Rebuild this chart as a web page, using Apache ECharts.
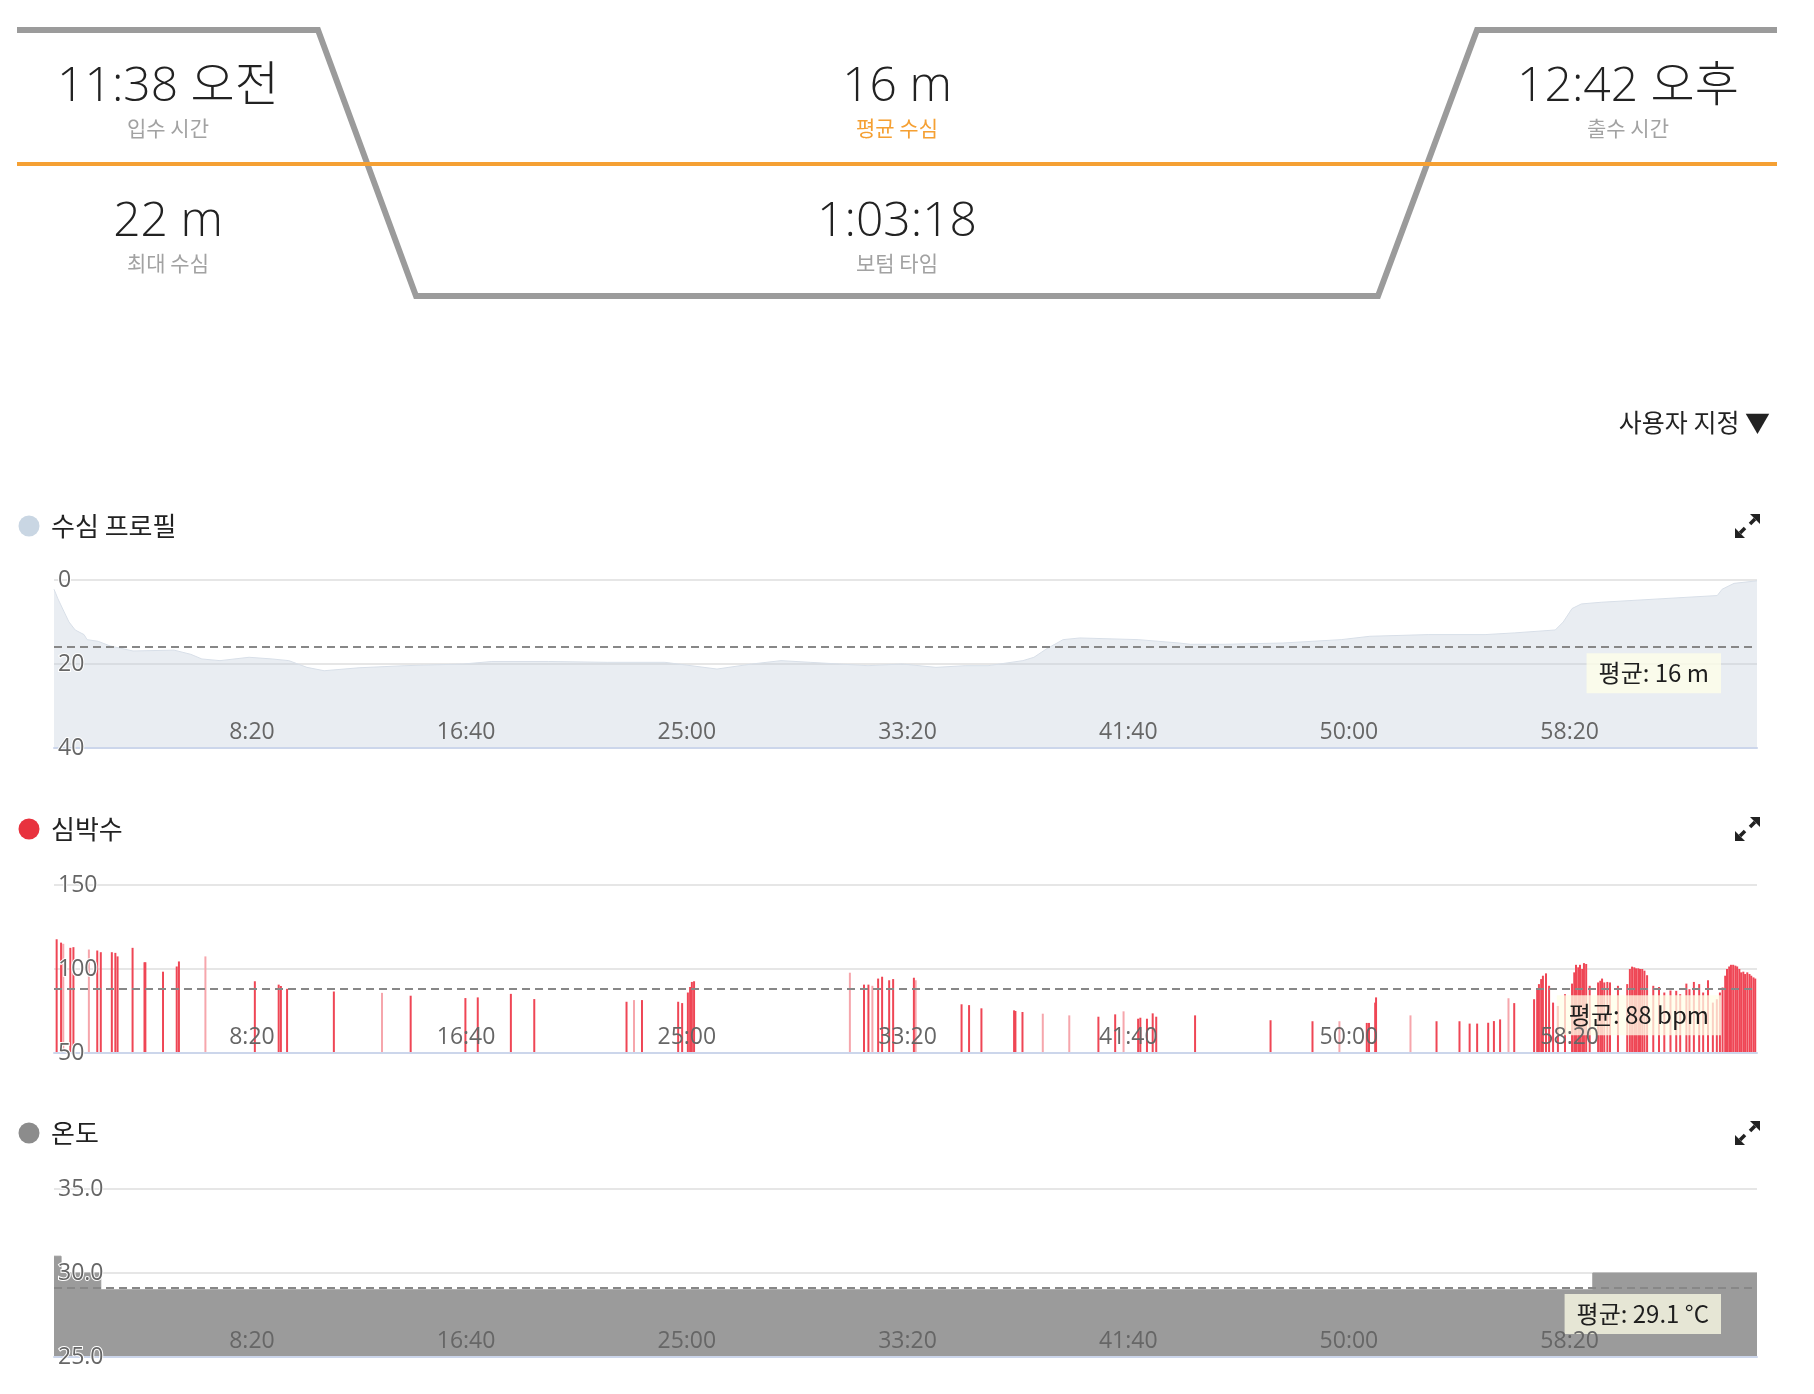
<!DOCTYPE html>
<html><head><meta charset="utf-8">
<script src="https://cdn.jsdelivr.net/npm/echarts@6/dist/echarts.min.js"></script>
<style>html,body{margin:0;padding:0;background:#fff;}#c{width:1814px;height:1394px;}</style>
</head><body><div id="c"></div>
<script>
// ---------- data ----------
const headerValues = ['11:38 오전', '16 m', '12:42 오후', '22 m', '1:03:18'];
const headerNames  = ['입수 시간', '평균 수심', '출수 시간', '최대 수심', '보텀 타임'];
const panelTitles  = ['수심 프로필', '심박수', '온도'];
const customLabel  = '사용자 지정 ▼';

const timeMax = 3858; // seconds shown on the x axis
const xTickValues = [500, 1000, 1500, 2000, 2500, 3000, 3500];
const xTickLabels = ['8:20', '16:40', '25:00', '33:20', '41:40', '50:00', '58:20'];

const depthTicks = [0, 20, 40];
const depthTickLabels = ['0', '20', '40'];
const hrTicks = [50, 100, 150];
const hrTickLabels = ['50', '100', '150'];
const tempTicks = [25, 30, 35];
const tempTickLabels = ['25.0', '30.0', '35.0'];

const depthTime = [0,9,23,34,48,68,75,100,127,179,272,310,335,376,442,494,532,573,612,691,795,927,992,1121,1253,1384,1502,1581,1647,1713,1844,1921,1998,2064,2116,2195,2220,2247,2286,2324,2456,2549,2574,2653,2784,2850,2916,2981,3113,3242,3308,3401,3419,3439,3460,3505,3636,3768,3779,3806,3858];
const depthM = [2.2,4.5,7.6,10,11.9,13,14.2,14.6,15.7,16.9,16.7,17.7,18.8,19.2,18.4,18.8,19.2,20.8,21.6,20.9,20.4,20,19.4,19.4,19.6,19.6,21.2,20,19.2,19.6,20.4,20,20.8,20.4,20.4,19.2,18.4,16.5,14.2,13.8,14.2,15,15.3,15.3,15,14.6,14.2,13.4,13,13,12.6,11.9,10,6.8,5.7,5.3,4.5,3.7,2.2,0.8,0.2];
const depthAvg = 16;

const hrSolidT = [6,16,37,44,98,106,131,139,144,178,205,207,247,278,283,455,509,514,528,634,808,932,960,1035,1088,1297,1332,1414,1423,1436,1441,1445,1450,1835,1845,1867,1876,1892,1901,1948,2056,2073,2101,2175,2178,2194,2366,2404,2456,2461,2476,2489,2497,2585,2756,2851,2974,2979,2993,2995,3132,3184,3207,3224,3249,3262,3276,3308,
  3353,3360,3364,3369,3373,3380,3387,3396,3407,3423,3439,3444,3448,3453,3457,3462,3466,3471,3479,3498,3503,3507,3512,3519,3525,3543,3564,3570,3575,3580,3584,3589,3593,3598,3603,3609,3623,3636,3648,3662,3675,3684,3698,3705,3715,3727,3736,3747,3758,3767,3774,3780,3786,3790,3795,3799,3804,3809,3813,3818,3822,3827,3831,3836,3841,3845,3850,3854];
const hrSolidV = [117.7,115.7,112.6,113,111,110,110,109.6,107.5,112.6,104,104,98.4,101.5,104.5,92.7,90.7,89.9,88.2,86.6,84.1,82.7,83.1,85.2,82.1,80.5,81.5,80.5,79.7,86,89.3,92.3,92.7,90.7,90.7,94.3,95.4,93.3,94,94.8,79,78.5,76.6,75.4,75,74.4,71.6,73,70.4,71,70.4,73.6,71.6,72.4,69.5,68.9,67.9,67.9,80,83.1,68.9,68.9,67.5,67.5,68,69,70,79.7,
  82,88,91,94,96,97.4,90,80,78,85,91.3,98,102.5,101,102.5,100,103.5,103,90,92,93,94.3,92,92.3,92,90,91,100,101.4,101,100.4,100.4,100,100,99,96.3,90,89.3,86,87.2,87,85,91.3,88,92.3,91,86,93.3,80,82,86,89,96,100,101.5,102.5,102.5,102,101.5,100,98,98.4,97,98,97,96,95,94.3];
const hrFaintT = [21,79,343,743,1314,1803,1854,1952,2240,2300,2423,2912,3073,3295];
const hrFaintV = [115,111.6,107.5,85.8,81.5,97.8,90,93.3,73.4,72.4,74.8,68.9,72.4,82.6];
const hrAvg = 88;

const tempT = [0, 16, 106, 3486, 3858];
const tempC = [31, 30, 29, 30, 30];
const tempAvg = 29.1;

// ---------- layout ----------
const PLOT_L = 54, PLOT_W = 1703, PLOT_H = 168;
const gridTops = [580, 885, 1189];
const titleYs = [526, 829, 1133];
const dotColors = ['#c9d6e3', '#e8323e', '#8c8c8c'];

function lookup(vals, labels) {
  return function (v) { const i = vals.findIndex(x => Math.abs(x - v) < 1e-6); return i < 0 ? '' : labels[i]; };
}
const xFmt = lookup(xTickValues, xTickLabels);

const grids = gridTops.map(t => ({left: PLOT_L, top: t, width: PLOT_W, height: PLOT_H}));

const xAxes = gridTops.map((t, i) => ({
  type: 'value', gridIndex: i, position: 'bottom', min: 0, max: timeMax, interval: 500, z: 10,
  axisLine: {show: true, onZero: false, lineStyle: {color: '#ccd6eb', width: 2}},
  axisTick: {show: false}, splitLine: {show: false},
  axisLabel: {inside: true, margin: 4, align: 'right', color: '#666', fontSize: 23,
    fontFamily: "'Open Sans', 'Noto Sans', sans-serif", showMinLabel: false, showMaxLabel: false,
    formatter: xFmt}
}));

const yDefs = [
  {min: 0, max: 40, interval: 20, inverse: true, fmt: lookup(depthTicks, depthTickLabels)},
  {min: 50, max: 150, interval: 50, inverse: false, fmt: lookup(hrTicks, hrTickLabels)},
  {min: 25, max: 35, interval: 5, inverse: false, fmt: lookup(tempTicks, tempTickLabels)}
];
const yAxes = [];
yDefs.forEach((d, i) => {
  yAxes.push({type: 'value', gridIndex: i, position: 'left', min: d.min, max: d.max, interval: d.interval, inverse: d.inverse, z: 0,
    axisLine: {show: false, onZero: false}, axisTick: {show: false}, axisLabel: {show: false},
    splitLine: {show: true, lineStyle: {color: '#e6e6e6', width: 2}}});
  yAxes.push({type: 'value', gridIndex: i, position: 'left', offset: 0, min: d.min, max: d.max, interval: d.interval, inverse: d.inverse, z: 10,
    axisLine: {show: false, onZero: false}, axisTick: {show: false}, splitLine: {show: false},
    axisLabel: {inside: true, margin: 4, color: '#666', fontSize: 23, padding: [0, 0, 4, 0],
      fontFamily: "'Open Sans', 'Noto Sans', sans-serif",
      textBorderColor: '#fff', textBorderWidth: 2, formatter: d.fmt}});
});

function avgLine(value, text) {
  return {
    silent: true, symbol: 'none', animation: false,
    lineStyle: {type: [8, 5], color: '#878787', width: 2},
    data: [{yAxis: value}],
    label: {show: true, position: 'insideEndBottom', distance: [36, 6], formatter: text,
      backgroundColor: 'rgba(255,255,232,0.75)', padding: [8, 12, 8, 12], color: '#1e1e1e',
      fontSize: 24, fontFamily: "'Noto Sans CJK KR', 'Noto Sans', sans-serif"}
  };
}

const series = [
  {type: 'line', xAxisIndex: 0, yAxisIndex: 0, showSymbol: false, symbol: 'none',
   data: depthTime.map((t, i) => [t, depthM[i]]),
   lineStyle: {width: 1, color: '#d8dfe8'},
   areaStyle: {origin: 'end', color: 'rgba(198,208,222,0.55)'},
   markLine: avgLine(depthAvg, '평균: ' + depthAvg + ' m')},
  {type: 'bar', xAxisIndex: 1, yAxisIndex: 2, barWidth: 2, barGap: '-100%', clip: true,
   data: hrFaintT.map((t, i) => [t, hrFaintV[i]]), itemStyle: {color: '#f6a6ac'}},
  {type: 'bar', xAxisIndex: 1, yAxisIndex: 2, barWidth: 2, barGap: '-100%', clip: true,
   data: hrSolidT.map((t, i) => [t, hrSolidV[i]]), itemStyle: {color: '#ef4655'},
   markLine: avgLine(hrAvg, '평균: ' + hrAvg + ' bpm')},
  {type: 'line', xAxisIndex: 2, yAxisIndex: 4, showSymbol: false, symbol: 'none', step: 'end',
   data: tempT.map((t, i) => [t, tempC[i]]),
   lineStyle: {width: 1, color: '#9b9b9b'},
   areaStyle: {origin: 'start', color: '#9b9b9b', opacity: 1},
   markLine: avgLine(tempAvg, '평균: ' + tempAvg.toFixed(1) + ' °C')}
];

// ---------- graphics (header, titles, icons) ----------
const FONT_NUM = "'Open Sans', 'Noto Sans CJK KR', sans-serif";
const FONT_KR = "'Noto Sans CJK KR', 'Noto Sans', sans-serif";
function txt(text, x, y, size, color, align, weight, family) {
  return {type: 'text', z: 20, silent: true, style: {text: text, x: x, y: y, fill: color,
    font: (weight || 'normal') + ' ' + size + 'px ' + (family || FONT_KR),
    align: align || 'center', textAlign: align || 'center', verticalAlign: 'middle', textVerticalAlign: 'middle'}};
}
const graphic = [];
graphic.push({type: 'polyline', z: 18, silent: true,
  shape: {points: [[17, 30], [318, 30], [416, 296], [1378, 296], [1477, 30], [1777, 30]]},
  style: {stroke: '#9b9b9b', lineWidth: 6, fill: null, lineJoin: 'miter'}});
graphic.push({type: 'line', z: 19, silent: true, shape: {x1: 17, y1: 164, x2: 1777, y2: 164},
  style: {stroke: '#f5a033', lineWidth: 4}});
const hdrPos = [[168, 87], [897, 87], [1628, 87], [168, 222], [897, 222]];
headerValues.forEach((v, i) => {
  graphic.push(txt(v, hdrPos[i][0], hdrPos[i][1], 48, '#222', 'center', 300, FONT_NUM));
  graphic.push(txt(headerNames[i], hdrPos[i][0], hdrPos[i][1] + 41, 21, i === 1 ? '#f5a033' : '#a2a2a2', 'center', 'normal', FONT_KR));
});
graphic.push(txt(customLabel, 1770, 422, 25, '#222', 'right', 'normal', FONT_KR));

function expandIcon(cx, cy) {
  return [
    {type: 'polygon', z: 20, silent: true, shape: {points: [[cx + 13, cy - 12], [cx + 13, cy - 2], [cx + 3, cy - 12]]}, style: {fill: '#222'}},
    {type: 'line', z: 20, silent: true, shape: {x1: cx + 8, y1: cy - 7, x2: cx + 3, y2: cy - 2}, style: {stroke: '#222', lineWidth: 3.5}},
    {type: 'polygon', z: 20, silent: true, shape: {points: [[cx - 12, cy + 12], [cx - 12, cy + 2], [cx - 2, cy + 12]]}, style: {fill: '#222'}},
    {type: 'line', z: 20, silent: true, shape: {x1: cx - 7, y1: cy + 7, x2: cx - 2, y2: cy + 2}, style: {stroke: '#222', lineWidth: 3.5}}
  ];
}
panelTitles.forEach((t, i) => {
  graphic.push({type: 'circle', z: 20, silent: true, shape: {cx: 29, cy: titleYs[i], r: 10.5}, style: {fill: dotColors[i]}});
  graphic.push(txt(t, 51, titleYs[i], 26, '#222', 'left', 'normal', FONT_KR));
  expandIcon(1747, titleYs[i]).forEach(e => graphic.push(e));
});

const chart = echarts.init(document.getElementById('c'), null, {renderer: 'canvas', width: 1814, height: 1394});
chart.setOption({
  animation: false,
  backgroundColor: '#fff',
  textStyle: {fontFamily: FONT_KR},
  grid: grids,
  xAxis: xAxes,
  yAxis: yAxes,
  series: series,
  graphic: graphic
});
</script></body></html>
